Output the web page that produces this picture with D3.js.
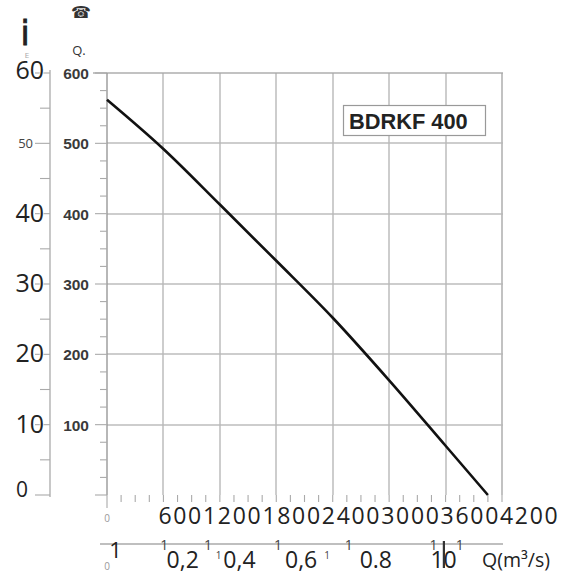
<!DOCTYPE html>
<html><head><meta charset="utf-8">
<script src="https://cdn.jsdelivr.net/npm/d3@7"></script>
<style>
html,body{margin:0;padding:0;background:#fff;}
svg{display:block;}
</style></head>
<body>
<svg id="chart" width="577" height="583"></svg>
<script>
// ---- data ----
const flowQ = [0, 600, 1200, 1800, 2400, 3000, 3600, 4050];        // m³/h
const pressure = [562, 492, 413, 333, 252, 163, 70, 0];           // Pa
const pressureTicks = [100, 200, 300, 400, 500, 600];
const headTicks = [0, 10, 20, 30, 40, 50, 60];
const flowTicks = [600, 1200, 1800, 2400, 3000, 3600, 4200];
const flowSecLabels = ["0,2", "0,4", "0,6", "0.8", "10"];
const flowSecValues = [0.2, 0.4, 0.6, 0.8, 1.0];
const flowSecMarks = [0.169, 0.298, 0.505, 0.714, 0.964, 1.042];
const flowSecSmallMarks = [0.33, 0.65];
const legendLabel = "BDRKF 400";
const unitLabel = "Q(m³/s)";

const svg = d3.select("#chart");
const x = d3.scaleLinear().domain([0, 4200]).range([107, 502]);
const y = d3.scaleLinear().domain([0, 600]).range([495, 73]);
const yH = d3.scaleLinear().domain([0, 60]).range([495, 73]);
const xs = d3.scaleLinear().domain([0, 4200 / 3600]).range([107, 502]);

// grid
const gridC = "#b8b8b8";
const gGrid = svg.append("g").attr("class", "grid");
gGrid.selectAll("rect.v").data(flowTicks).join("rect").attr("class", "v")
  .attr("x", d => Math.round(x(d)) - 0.7).attr("width", 1.4)
  .attr("y", y(600)).attr("height", y(0) - y(600))
  .attr("fill", d => d === 4200 ? "#a8a8a8" : gridC);
gGrid.selectAll("rect.h").data(pressureTicks).join("rect").attr("class", "h")
  .attr("x", d => d === 600 ? 93 : x(0)).attr("width", d => x(4200) + 1 - (d === 600 ? 93 : x(0)))
  .attr("y", d => Math.round(y(d)) - 0.7).attr("height", 1.4)
  .attr("fill", d => d === 600 ? "#a8a8a8" : gridC);

// inner pressure axis
const gIn = svg.append("g");
gIn.append("line").attr("x1", x(0)).attr("x2", x(0)).attr("y1", y(600)).attr("y2", y(0))
  .attr("stroke", "#999").attr("stroke-width", 1.4);
gIn.selectAll("line.mn").data(d3.range(0, 601, 25)).join("line").attr("class", "mn")
  .attr("x1", d => d % 100 === 0 ? 95 : 100).attr("x2", x(0))
  .attr("y1", d => y(d)).attr("y2", d => y(d))
  .attr("stroke", "#aaa").attr("stroke-width", 1.1);
gIn.selectAll("text").data(pressureTicks).join("text")
  .attr("x", 89).attr("y", d => y(d) + 6)
  .attr("text-anchor", "end")
  .attr("font-family", "Liberation Sans, Arial, sans-serif")
  .attr("font-weight", "bold").attr("font-size", 15.5)
  .attr("fill", "#3a3a3a").text(d => d);

// outer head axis
const gOut = svg.append("g");
gOut.append("line").attr("x1", 50).attr("x2", 50).attr("y1", yH(60) - 3).attr("y2", yH(0) + 2)
  .attr("stroke", "#aaa").attr("stroke-width", 1.3);
gOut.selectAll("line.t").data(d3.range(0, 61, 5)).join("line").attr("class", "t")
  .attr("x1", d => d % 10 === 0 ? 35 : 40).attr("x2", 50)
  .attr("y1", d => yH(d)).attr("y2", d => yH(d))
  .attr("stroke", "#aaa").attr("stroke-width", 1.1);
gOut.selectAll("text").data(headTicks).join("text")
  .attr("x", d => d === 50 ? 33 : (d === 0 ? 28 : 44))
  .attr("y", d => d === 50 ? yH(d) + 5 : (d === 0 ? yH(d) + 2 : (d === 60 ? yH(d) + 6 : yH(d) + 8)))
  .attr("text-anchor", "end")
  .attr("font-family", "Open Sans, sans-serif")
  .attr("font-size", d => d === 50 ? 13 : (d === 0 ? 21 : 25))
  .attr("fill", d => d === 50 ? "#444" : "#222")
  .style("paint-order", "stroke").attr("stroke", "#fff").attr("stroke-width", d => d === 50 ? 0 : 1.5)
  .text(d => d);

// bottom axis
const gB = svg.append("g");
gB.append("line").attr("x1", 92).attr("x2", x(4200) + 1).attr("y1", y(0)).attr("y2", y(0))
  .attr("stroke", "#999").attr("stroke-width", 1.4);
gB.selectAll("line").data(d3.range(0, 4201, 150)).join("line")
  .attr("x1", d => x(d)).attr("x2", d => x(d))
  .attr("y1", y(0)).attr("y2", d => d === 0 ? y(0) + 13 : y(0) + 7)
  .attr("stroke", "#aaa").attr("stroke-width", 1.1);
gB.append("text").attr("x", x(0)).attr("y", 522).attr("text-anchor", "middle")
  .attr("font-family", "Open Sans, sans-serif").attr("font-size", 10).attr("fill", "#999").text("0");
const lbl = gB.append("text").attr("x", x(600) - 5).attr("y", 524)
  .attr("font-family", "Open Sans, sans-serif").attr("font-size", 23)
  .attr("letter-spacing", 1.7).attr("fill", "#222");
lbl.selectAll("tspan").data(flowTicks).join("tspan").text(d => d);

// secondary m³/s axis
const gS = svg.append("g");
gS.append("line").attr("x1", 100).attr("x2", xs(4200 / 3600) + 1).attr("y1", 544).attr("y2", 544)
  .attr("stroke", "#aaa").attr("stroke-width", 1.3);
gS.append("text").attr("x", xs(0.025)).attr("y", 558).attr("text-anchor", "middle")
  .attr("font-family", "Open Sans, sans-serif").attr("font-size", 22).attr("fill", "#222").text("1");
gS.append("text").attr("x", xs(0)).attr("y", 570).attr("text-anchor", "middle")
  .attr("font-family", "Open Sans, sans-serif").attr("font-size", 10).attr("fill", "#999").text("0");
gS.selectAll("text.m").data(flowSecMarks).join("text").attr("class", "m")
  .attr("x", d => xs(d)).attr("y", 550).attr("text-anchor", "middle")
  .attr("font-family", "Open Sans, sans-serif").attr("font-size", 14).attr("fill", "#444")
  .text("1");
gS.selectAll("text.s").data(flowSecSmallMarks).join("text").attr("class", "s")
  .attr("x", d => xs(d)).attr("y", 559).attr("text-anchor", "middle")
  .attr("font-family", "Open Sans, sans-serif").attr("font-size", 10).attr("fill", "#444")
  .text("1");
gS.selectAll("text.l").data(flowSecValues).join("text").attr("class", "l")
  .attr("x", (d, i) => xs(d) + (i === 0 ? 8 : i === 2 ? -9 : i === 1 ? -3 : -2)).attr("y", 568).attr("text-anchor", "middle")
  .attr("font-family", "Open Sans, sans-serif").attr("font-size", 23).attr("fill", "#222")
  .text((d, i) => flowSecLabels[i]);
gS.append("line").attr("x1", xs(0.995)).attr("x2", xs(0.995)).attr("y1", 541).attr("y2", 568)
  .attr("stroke", "#333").attr("stroke-width", 2.2);
gS.append("text").attr("x", 482).attr("y", 567)
  .attr("font-family", "Open Sans, sans-serif").attr("font-size", 19.5).attr("fill", "#222")
  .text(unitLabel);

// curve
const line = d3.line().x((d, i) => x(flowQ[i])).y(d => y(d)).curve(d3.curveMonotoneX);
svg.append("path").datum(pressure).attr("d", line)
  .attr("fill", "none").attr("stroke", "#111").attr("stroke-width", 2.6);

// legend box
const lg = svg.append("g");
lg.append("rect").attr("x", 343.5).attr("y", 105.5).attr("width", 142).attr("height", 30)
  .attr("fill", "#fff").attr("stroke", "#999").attr("stroke-width", 1.2);
lg.append("text").attr("x", 349).attr("y", 129)
  .attr("font-family", "Liberation Sans, Arial, sans-serif").attr("font-weight", "bold")
  .attr("font-size", 21.8).attr("fill", "#222").text(legendLabel);

// top-left stray symbols
svg.append("text").attr("x", 25).attr("y", 45).attr("text-anchor", "middle")
  .attr("font-family", "DejaVu Sans, sans-serif")
  .attr("font-size", 33).attr("fill", "#222").attr("stroke", "#222").attr("stroke-width", 0.8).text("i");
svg.append("text").attr("x", 27).attr("y", 58).attr("text-anchor", "middle")
  .attr("font-family", "DejaVu Sans, sans-serif").attr("font-size", 7).attr("fill", "#aaa").text("E");
svg.append("text").attr("x", 81).attr("y", 18).attr("text-anchor", "middle")
  .attr("font-family", "DejaVu Sans, sans-serif").attr("font-size", 16).attr("fill", "#333").text("☎");
svg.append("text").attr("x", 79).attr("y", 55).attr("text-anchor", "middle")
  .attr("font-family", "Open Sans, sans-serif").attr("font-size", 13).attr("fill", "#333").text("Q.");
</script>
</body></html>
